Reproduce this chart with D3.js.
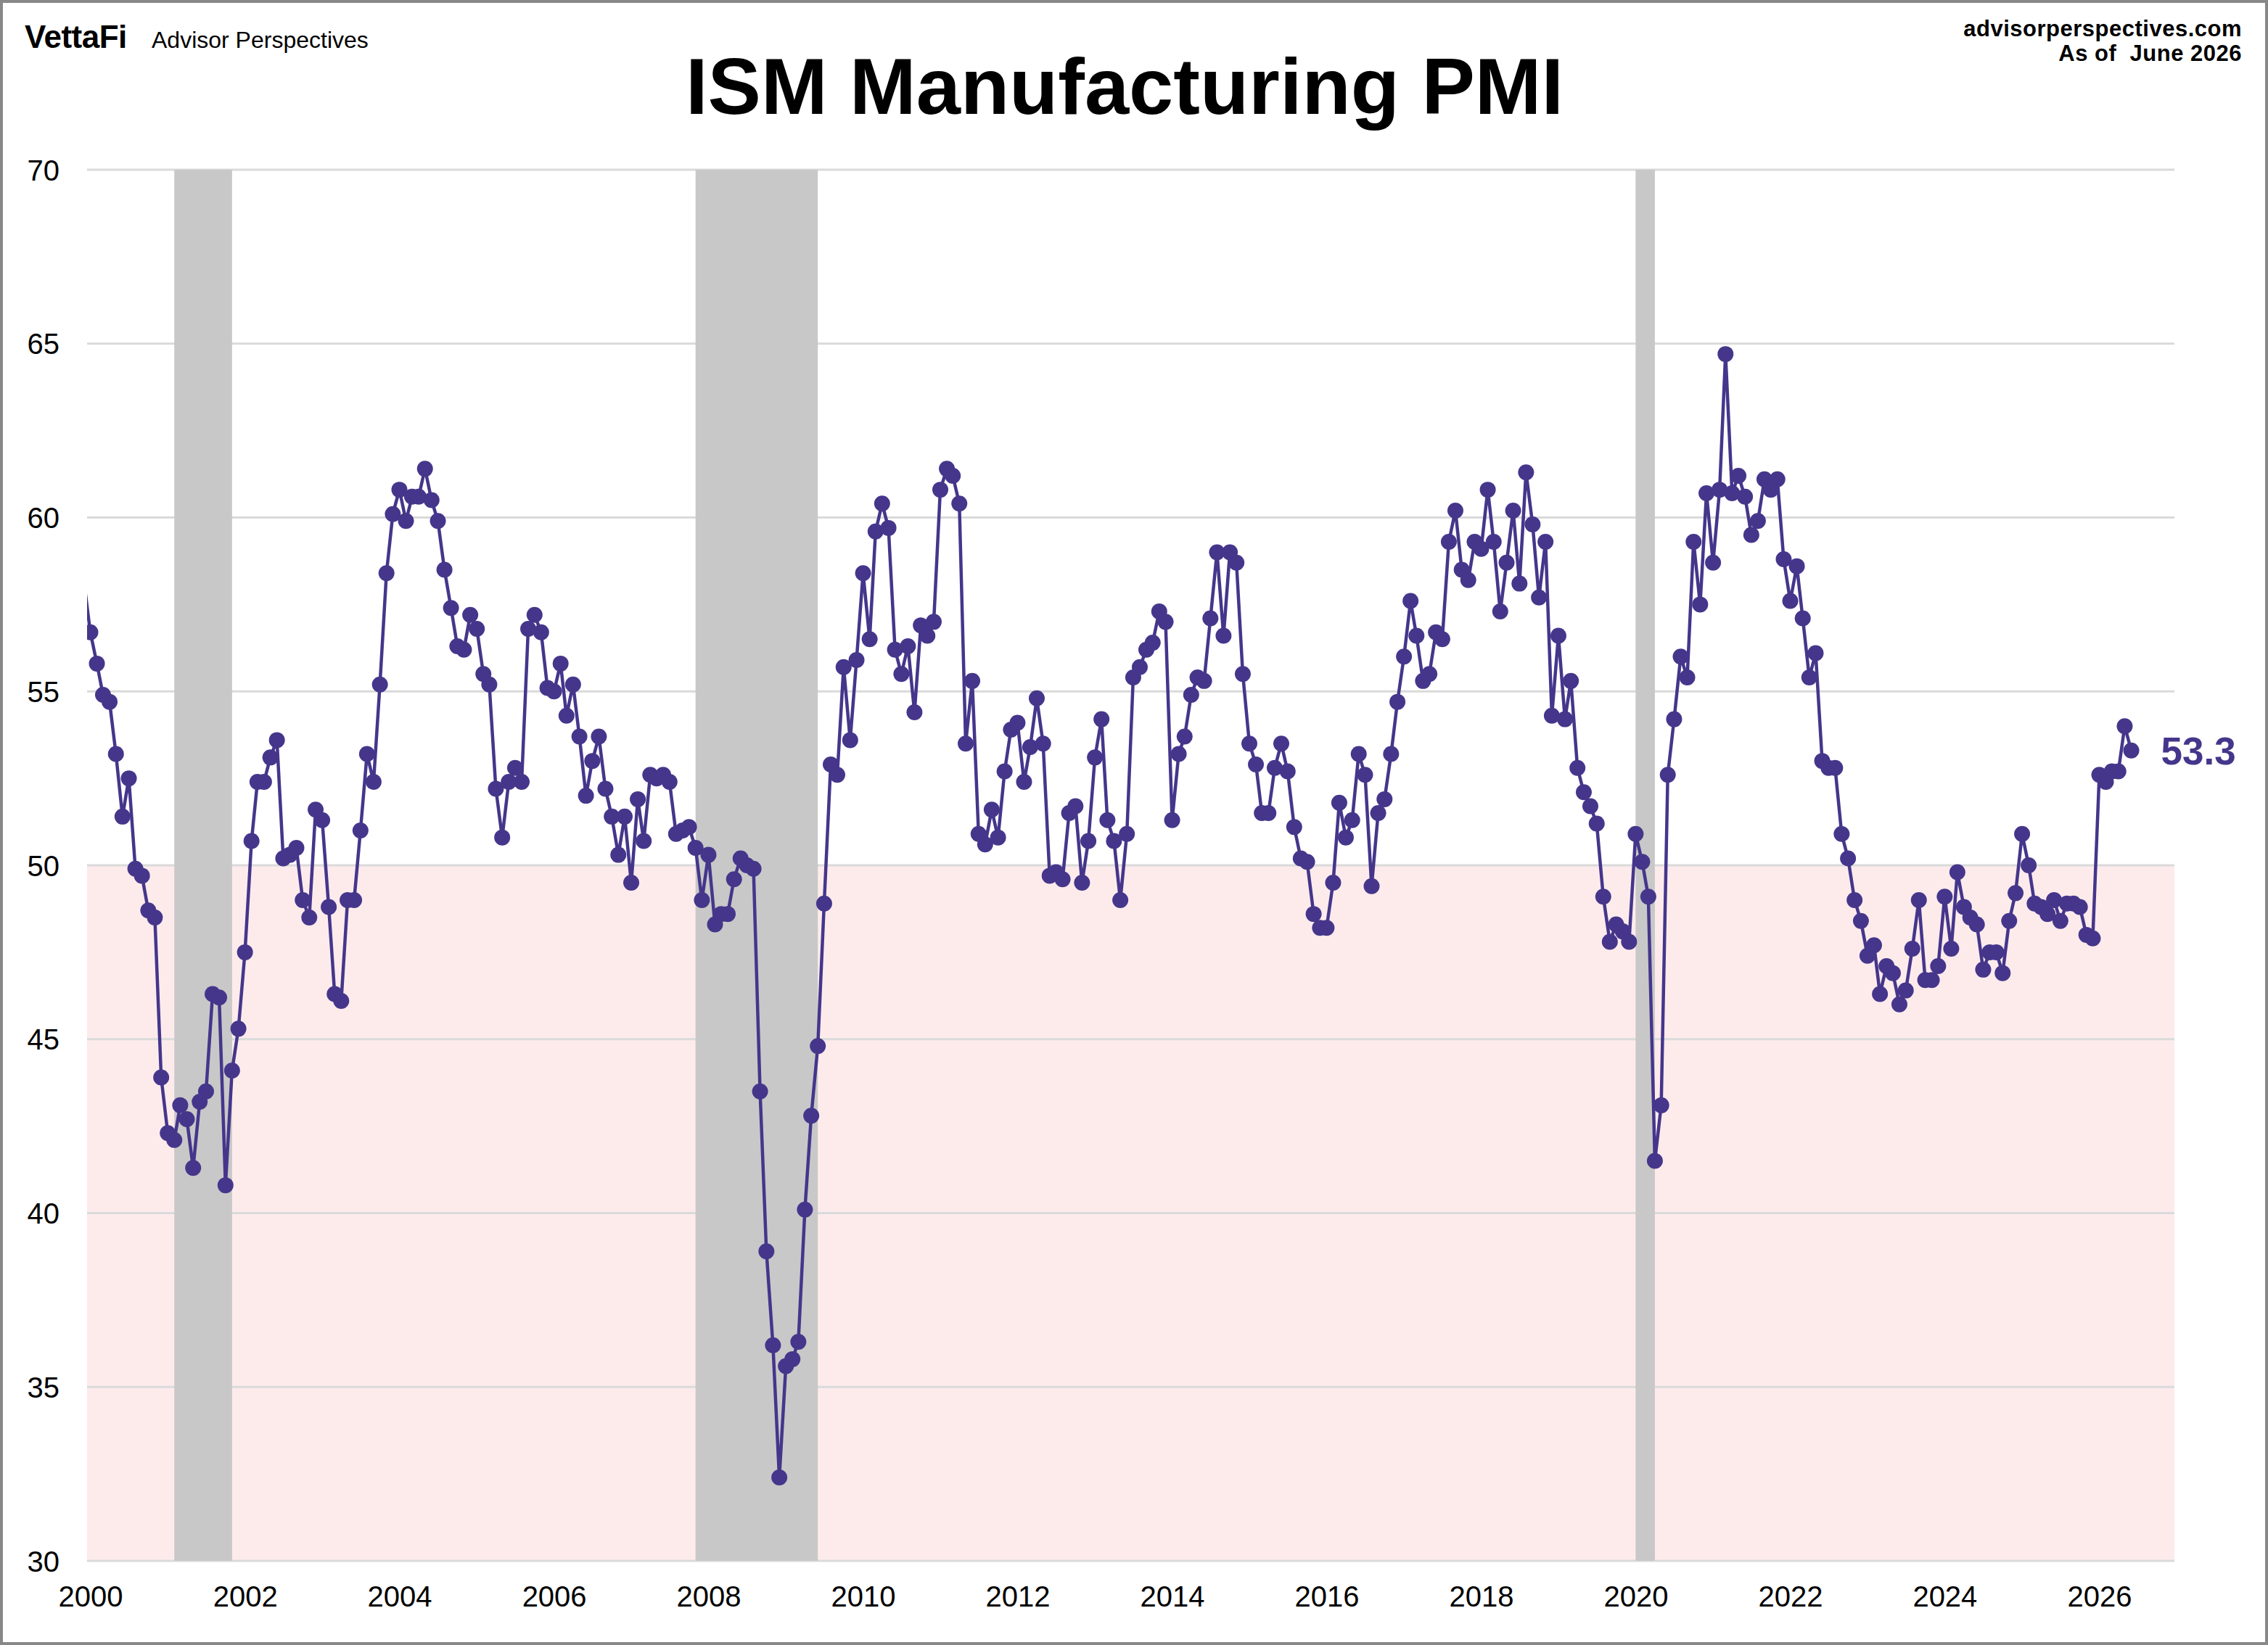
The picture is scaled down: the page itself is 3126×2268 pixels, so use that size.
<!DOCTYPE html>
<html>
<head>
<meta charset="utf-8">
<script src="https://cdn.jsdelivr.net/npm/d3@7"></script>
<style>
  html, body { margin: 0; padding: 0; background: #ffffff; }
  svg { display: block; }
</style>
</head>
<body>
<svg id="chart" width="3126" height="2268"></svg>
<script>
// ---------------- DATA ----------------
const firstMonth = "1999-12";   // first value below is Dec 1999 (clipped at the left edge)
const pmi1999 = [58.2];
const pmi2000s = [
  56.7,55.8,54.9,54.7,53.2,51.4,52.5,49.9,49.7,48.7,48.5,43.9,   // 2000
  42.3,42.1,43.1,42.7,41.3,43.2,43.5,46.3,46.2,40.8,44.1,45.3,   // 2001
  47.5,50.7,52.4,52.4,53.1,53.6,50.2,50.3,50.5,49.0,48.5,51.6,   // 2002
  51.3,48.8,46.3,46.1,49.0,49.0,51.0,53.2,52.4,55.2,58.4,60.1,   // 2003
  60.8,59.9,60.6,60.6,61.4,60.5,59.9,58.5,57.4,56.3,56.2,57.2,   // 2004
  56.8,55.5,55.2,52.2,50.8,52.4,52.8,52.4,56.8,57.2,56.7,55.1,   // 2005
  55.0,55.8,54.3,55.2,53.7,52.0,53.0,53.7,52.2,51.4,50.3,51.4,   // 2006
  49.5,51.9,50.7,52.6,52.5,52.6,52.4,50.9,51.0,51.1,50.5,49.0,   // 2007
  50.3,48.3,48.6,48.6,49.6,50.2,50.0,49.9,43.5,38.9,36.2,32.4,   // 2008
  35.6,35.8,36.3,40.1,42.8,44.8,48.9,52.9,52.6,55.7,53.6,55.9    // 2009
];
const pmi2010s = [
  58.4,56.5,59.6,60.4,59.7,56.2,55.5,56.3,54.4,56.9,56.6,57.0,   // 2010
  60.8,61.4,61.2,60.4,53.5,55.3,50.9,50.6,51.6,50.8,52.7,53.9,   // 2011
  54.1,52.4,53.4,54.8,53.5,49.7,49.8,49.6,51.5,51.7,49.5,50.7,   // 2012
  53.1,54.2,51.3,50.7,49.0,50.9,55.4,55.7,56.2,56.4,57.3,57.0,   // 2013
  51.3,53.2,53.7,54.9,55.4,55.3,57.1,59.0,56.6,59.0,58.7,55.5,   // 2014
  53.5,52.9,51.5,51.5,52.8,53.5,52.7,51.1,50.2,50.1,48.6,48.2,   // 2015
  48.2,49.5,51.8,50.8,51.3,53.2,52.6,49.4,51.5,51.9,53.2,54.7,   // 2016
  56.0,57.6,56.6,55.3,55.5,56.7,56.5,59.3,60.2,58.5,58.2,59.3,   // 2017
  59.1,60.8,59.3,57.3,58.7,60.2,58.1,61.3,59.8,57.7,59.3,54.3,   // 2018
  56.6,54.2,55.3,52.8,52.1,51.7,51.2,49.1,47.8,48.3,48.1,47.8    // 2019
];
const pmi2020s = [
  50.9,50.1,49.1,41.5,43.1,52.6,54.2,56.0,55.4,59.3,57.5,60.7,   // 2020
  58.7,60.8,64.7,60.7,61.2,60.6,59.5,59.9,61.1,60.8,61.1,58.8,   // 2021
  57.6,58.6,57.1,55.4,56.1,53.0,52.8,52.8,50.9,50.2,49.0,48.4,   // 2022
  47.4,47.7,46.3,47.1,46.9,46.0,46.4,47.6,49.0,46.7,46.7,47.1,   // 2023
  49.1,47.6,49.8,48.8,48.5,48.3,47.0,47.5,47.5,46.9,48.4,49.2,   // 2024
  50.9,50.0,48.9,48.8,48.6,49.0,48.4,48.9,48.9,48.8,48.0,47.9,   // 2025
  52.6,52.4,52.7,52.7,54.0,53.3                                  // 2026
];
const recessionStarts = ["2001-02", "2007-11", "2020-01"];
const recessionEnds   = ["2001-11", "2009-06", "2020-04"];
const yTickValues = [30, 35, 40, 45, 50, 55, 60, 65, 70];
const xTickYears = [2000, 2002, 2004, 2006, 2008, 2010, 2012, 2014, 2016, 2018, 2020, 2022, 2024, 2026];
const titleText = "ISM Manufacturing PMI";
const siteText = "advisorperspectives.com";
const asOfText = "As of  June 2026";
const contractionLevel = 50;

// ---------------- BUILD ----------------
const parseMonth = d3.timeParse("%Y-%m");
const allValues = pmi1999.concat(pmi2000s, pmi2010s, pmi2020s);
const start = parseMonth(firstMonth);
const series = allValues.map((v, i) => ({ date: d3.timeMonth.offset(start, i), value: v }));
const dotSeries = series.filter(d => d.date >= new Date(2000, 0, 1));
const last = series[series.length - 1];

const W = 3126, H = 2268;
const plot = { left: 120, right: 2997, top: 234, bottom: 2152 };

const x = d3.scaleTime()
  .domain([new Date(2000, 0, 1), new Date(2026, 0, 1)])
  .range([124.5, 2893.5]);
const y = d3.scaleLinear().domain([30, 70]).range([plot.bottom, plot.top]);

const purple = "#45368b";
const font = "'Liberation Sans', Arial, Helvetica, sans-serif";

const svg = d3.select("#chart");

svg.append("rect").attr("x", 0).attr("y", 0).attr("width", W).attr("height", H).attr("fill", "#fff");

const defs = svg.append("defs");
defs.append("clipPath").attr("id", "plotclip")
  .append("rect")
  .attr("x", plot.left).attr("y", plot.top)
  .attr("width", plot.right - plot.left).attr("height", plot.bottom - plot.top);

// contraction (pink) area
svg.append("rect")
  .attr("x", plot.left).attr("y", y(contractionLevel))
  .attr("width", plot.right - plot.left)
  .attr("height", y(30) - y(contractionLevel))
  .attr("fill", "#fdebec");

// gridlines
svg.append("g").selectAll("line").data(yTickValues).join("line")
  .attr("x1", plot.left).attr("x2", plot.right)
  .attr("y1", d => y(d)).attr("y2", d => y(d))
  .attr("stroke", "#dadada").attr("stroke-width", 3);

// recession bands
svg.append("g").selectAll("rect").data(recessionStarts.map((s, i) => [parseMonth(s), parseMonth(recessionEnds[i])]))
  .join("rect")
  .attr("x", d => x(d[0])).attr("width", d => x(d[1]) - x(d[0]))
  .attr("y", y(70)).attr("height", y(30) - y(70))
  .attr("fill", "#c8c8c8");

// y-axis labels
const yAxis = d3.axisLeft(y).tickValues(yTickValues).tickSize(0).tickPadding(0).tickFormat(d3.format("d"));
const gy = svg.append("g").attr("transform", "translate(82,0)").call(yAxis);
gy.select(".domain").remove();
gy.selectAll("text").attr("font-family", font).attr("font-size", 40).attr("fill", "#000").attr("dy", "0.35em");

// x-axis labels
const xAxis = d3.axisBottom(x).tickValues(xTickYears.map(yy => new Date(yy, 0, 1))).tickSize(0).tickPadding(0).tickFormat(d3.timeFormat("%Y"));
const gx = svg.append("g").attr("transform", "translate(0,2215)").call(xAxis);
gx.select(".domain").remove();
gx.selectAll("text").attr("font-family", font).attr("font-size", 40).attr("fill", "#000").attr("dy", 0);

// line + dots
const gData = svg.append("g").attr("clip-path", "url(#plotclip)");
gData.append("path")
  .datum(series)
  .attr("d", d3.line().x(d => x(d.date)).y(d => y(d.value)))
  .attr("fill", "none").attr("stroke", purple).attr("stroke-width", 4.5).attr("stroke-linejoin", "round");
gData.selectAll("circle").data(dotSeries).join("circle")
  .attr("cx", d => x(d.date)).attr("cy", d => y(d.value)).attr("r", 11)
  .attr("fill", purple);

// last value label
svg.append("text")
  .attr("x", x(last.date) + 41).attr("y", y(last.value)).attr("dy", "0.36em")
  .attr("font-family", font).attr("font-weight", "bold").attr("font-size", 53)
  .attr("fill", purple).text(d3.format(".1f")(last.value));

// title
svg.append("text")
  .attr("x", 1550).attr("y", 157).attr("text-anchor", "middle")
  .attr("font-family", font).attr("font-weight", "bold").attr("font-size", 110)
  .attr("fill", "#000").text(titleText);

// header left
svg.append("text")
  .attr("x", 34).attr("y", 66)
  .attr("font-family", font).attr("font-weight", "bold").attr("font-size", 44)
  .attr("letter-spacing", -0.5)
  .attr("fill", "#000").text("VettaFi");
svg.append("text")
  .attr("x", 209).attr("y", 66)
  .attr("font-family", font).attr("font-size", 32)
  .attr("fill", "#000").text("Advisor Perspectives");

// header right
svg.append("text")
  .attr("x", 3090).attr("y", 50).attr("text-anchor", "end")
  .attr("font-family", font).attr("font-weight", "bold").attr("font-size", 31)
  .attr("letter-spacing", 0.5)
  .attr("fill", "#000").text(siteText);
svg.append("text")
  .attr("x", 3090).attr("y", 84).attr("text-anchor", "end")
  .attr("font-family", font).attr("font-weight", "bold").attr("font-size", 31)
  .attr("letter-spacing", 0.5)
  .style("white-space", "pre")
  .attr("fill", "#000").text(asOfText);

// frame
svg.append("rect")
  .attr("x", 2).attr("y", 2).attr("width", W - 4).attr("height", H - 4)
  .attr("fill", "none").attr("stroke", "#888888").attr("stroke-width", 4);
</script>
</body>
</html>
